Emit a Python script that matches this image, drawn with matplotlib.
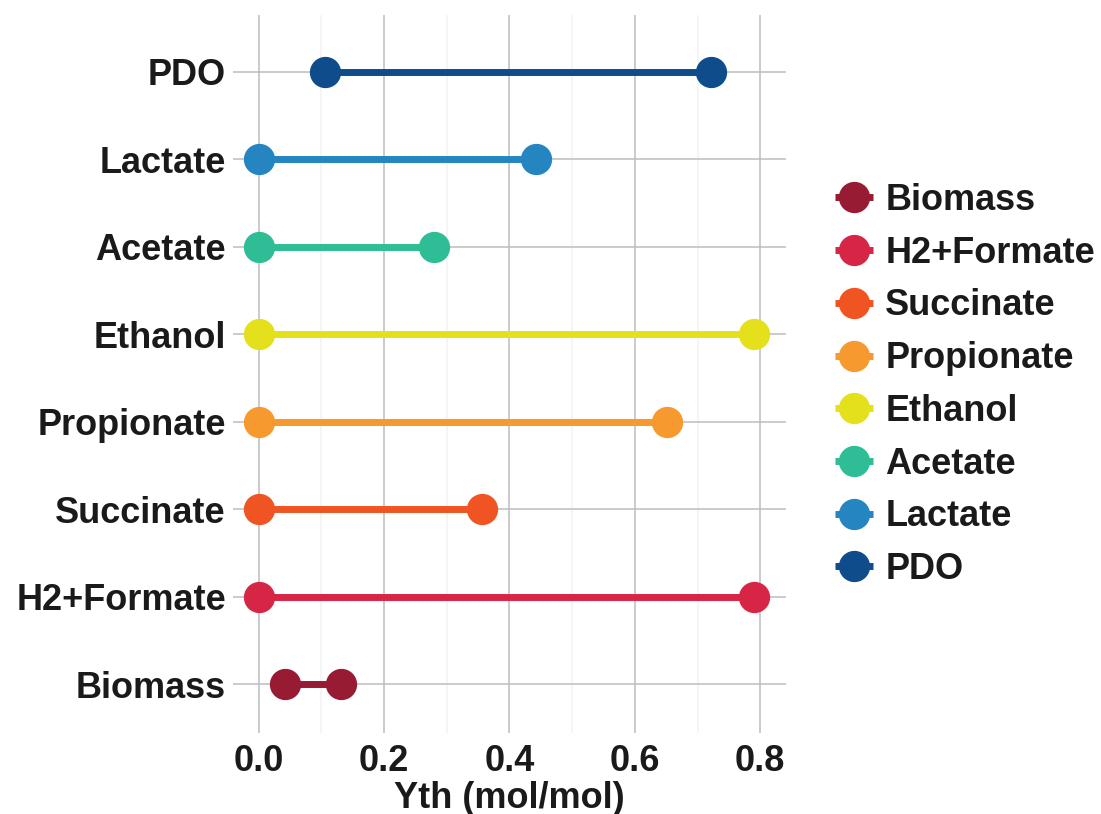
import numpy as np
import matplotlib
matplotlib.use('Agg')
import matplotlib.pyplot as plt

categories = ['Biomass', 'H2+Formate', 'Succinate', 'Propionate',
              'Ethanol', 'Acetate', 'Lactate', 'PDO']
y_low = [0.042, 0.0, 0.0, 0.0, 0.0, 0.0, 0.0, 0.105]
y_high = [0.131, 0.790, 0.356, 0.652, 0.790, 0.280, 0.442, 0.721]
colors = ['#961B33', '#D72645', '#F05423', '#F6992E',
          '#E5E01C', '#2EBD95', '#2585C1', '#0F4C8C']
x_ticks = [0.0, 0.2, 0.4, 0.6, 0.8]

plt.rcParams['font.family'] = ['Liberation Sans', 'DejaVu Sans']
plt.rcParams['font.weight'] = 'bold'
text_col = '#1a1a1a'

fig = plt.figure(figsize=(11.01, 8.14), dpi=100)
ax = fig.add_axes([0.2116, 0.0995, 0.5023, 0.882])

for i, (cat, lo, hi, c) in enumerate(zip(categories, y_low, y_high, colors)):
    ax.plot([lo, hi], [i, i], color=c, lw=5, marker='o', markersize=21.5,
            solid_capstyle='butt', label=cat, zorder=3)

ax.set_xlim(-0.041, 0.841)
ax.set_ylim(-0.56, 7.65)
ax.set_yticks(range(len(categories)))
ax.set_yticklabels(categories)
ax.set_xticks(x_ticks)
ax.set_xticklabels(['%.1f' % v for v in x_ticks])
ax.set_xticks([0.1, 0.3, 0.5, 0.7], minor=True)

ax.grid(True, which='major', color='#bdbdbd', lw=1.1, zorder=0)
ax.grid(True, which='minor', axis='x', color='#f3f3f3', lw=1.1, zorder=0)
ax.set_axisbelow(True)
for s in ax.spines.values():
    s.set_visible(False)
ax.tick_params(axis='both', which='both', length=0, labelsize=26,
               labelcolor=text_col)
ax.tick_params(axis='y', pad=5)
ax.tick_params(axis='x', pad=8)
for lab in ax.get_xticklabels() + ax.get_yticklabels():
    lab.set_fontweight('bold')

ax.set_xlabel('Yth (mol/mol)', fontsize=26, fontweight='bold',
              color=text_col, labelpad=1)

leg = ax.legend(loc='center left', bbox_to_anchor=(0.745, 0.527),
                bbox_transform=fig.transFigure, frameon=False,
                prop={'size': 26, 'weight': 'bold'}, handlelength=1.05,
                handletextpad=0.35, labelspacing=0.49, borderaxespad=0)
for t in leg.get_texts():
    t.set_color(text_col)

fig.savefig('out.png', dpi=100)
